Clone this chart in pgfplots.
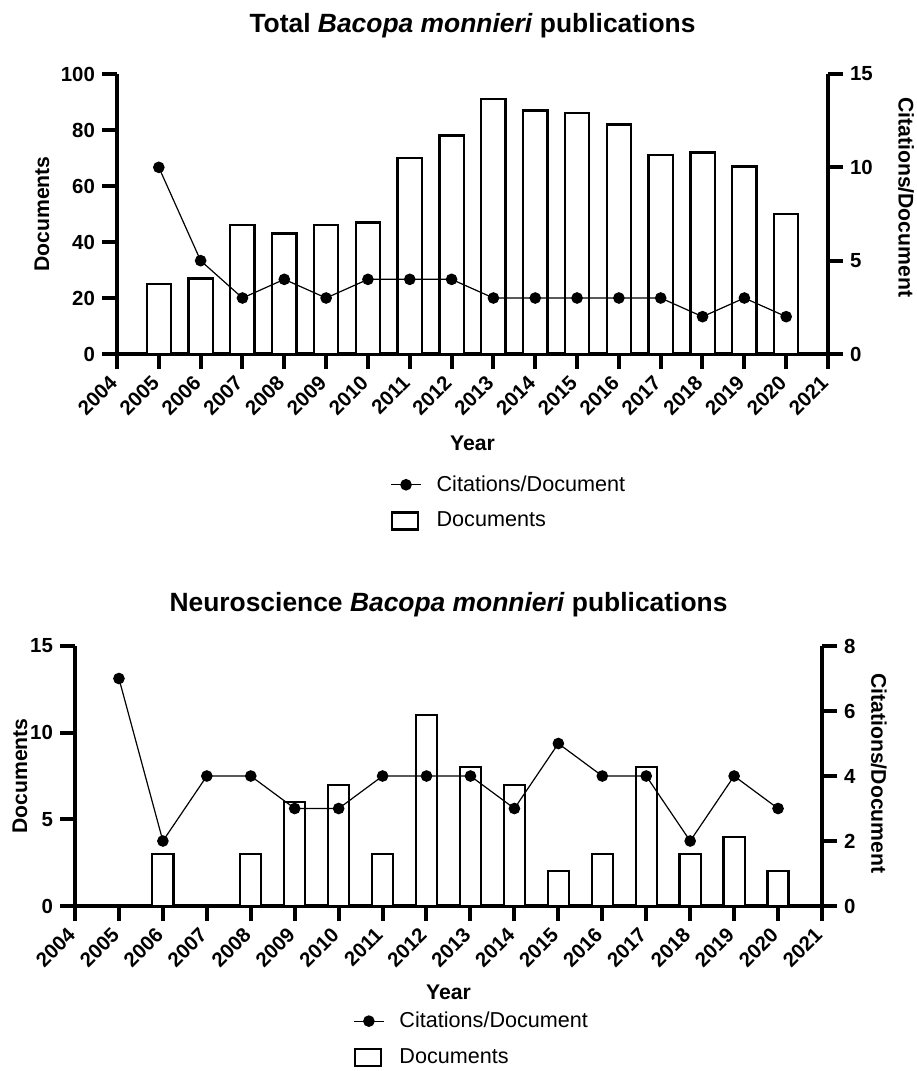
\documentclass[border=0pt]{standalone}
\usepackage{fontspec}
\setmainfont{Liberation Sans}
\usepackage{pgfplots}
\usepackage{pgfplotstable}
\pgfplotsset{compat=1.18}

\pgfplotstableread{
year docs cit
2005 25 10
2006 27 5
2007 46 3
2008 43 4
2009 46 3
2010 47 4
2011 70 4
2012 78 4
2013 91 3
2014 87 3
2015 86 3
2016 82 3
2017 71 3
2018 72 2
2019 67 3
2020 50 2
}\totaltab

\pgfplotstableread{
year docs cit
2005 0 7
2006 3 2
2007 0 4
2008 3 4
2009 6 3
2010 7 3
2011 3 4
2012 11 4
2013 8 4
2014 7 3
2015 2 5
2016 3 4
2017 8 4
2018 3 2
2019 4 4
2020 2 3
}\neurotab

\newcommand{\lblfont}{\bfseries\fontsize{10.6}{12}\selectfont}
\newcommand{\titfont}{\bfseries\fontsize{13.2}{15}\selectfont}
\newcommand{\tickfont}{\bfseries\fontsize{10.2}{12}\selectfont}

\pgfplotsset{
  base/.style={
    scale only axis,
    xmin=2004, xmax=2021,
    xtick={2004,...,2021},
    /pgf/number format/assume math mode=true,
    /pgf/number format/1000 sep={},
    xticklabel style={xshift=-4.3pt, yshift=-2.2pt, rotate=45, anchor=north east, inner sep=0pt, font=\tickfont},
    yticklabel style={font=\tickfont},
    clip=false,
  },
  finish/.style={
    axis line style={line width=2pt,-},
    tick style={line width=2pt, black},
    major tick length=7.5pt,
    tick align=outside,
  },
  leftax/.style={base, axis x line=bottom, axis y line=left, finish,
    xtick style={line width=2pt, black}},
  rightax/.style={base, axis x line=none, axis y line=right, finish},
  docbar/.style={ybar, bar shift=0pt, draw=black, fill=white, line width=1.15pt},
  citline/.style={black, line width=0.6pt, mark=*, mark size=2.6pt,
    legend image code/.code={\draw[black, line width=0.6pt] (0pt,0pt) -- (15pt,0pt);
      \fill[black] (7.5pt,0pt) circle (2.6pt);}},
  barlegend/.style={legend image code/.code={\draw[black, line width=1.15pt, fill=white] (0.6pt,-4.2pt) rectangle (13.5pt,4.2pt);}},
  mylegend/.style={legend style={draw=none, fill=none, anchor=north west,
    font=\fontsize{10.8}{13}\selectfont, row sep=5pt, column sep=5.5pt, inner sep=0pt},
    legend cell align=left},
}

\begin{document}
\begin{tikzpicture}
\path[use as bounding box] (0pt,0pt) rectangle (458pt,-535.5pt);

% ---------------- Top chart ----------------
\begin{axis}[leftax,
  at={(58.5pt,-177pt)}, anchor=south west,
  width=355.5pt, height=140pt,
  ymin=0, ymax=100, ytick={0,20,...,100},
  bar width=0.58,
  title={Total \textit{Bacopa monnieri} publications},
  every axis title/.style={at={(0.5,1.15)}, anchor=base, font=\titfont},
  xlabel={Year},
  every axis x label/.style={at={(0.5,-0.343)}, anchor=base, font=\lblfont},
  ylabel={Documents},
  every axis y label/.style={at={(-0.1055,0.5)}, rotate=90, anchor=center, font=\lblfont},
]
\addplot[docbar] table[x=year, y=docs] {\totaltab};
\end{axis}
\begin{axis}[rightax, mylegend,
  at={(58.5pt,-177pt)}, anchor=south west,
  width=355.5pt, height=140pt,
  ymin=0, ymax=15, ytick={0,5,10,15},
  ylabel={Citations/Document},
  every axis y label/.style={at={(1.1097,0.56)}, rotate=-90, anchor=center, font=\lblfont},
  legend style={at={(0.384,-0.418)}},
]
\addplot[citline] table[x=year, y=cit] {\totaltab};
\addlegendentry{Citations/Document}
\addlegendimage{barlegend}
\addlegendentry{Documents}
\end{axis}

% ---------------- Bottom chart ----------------
\begin{axis}[leftax,
  at={(37.5pt,-453pt)}, anchor=south west,
  width=373.5pt, height=130pt,
  ymin=0, ymax=15, ytick={0,5,10,15},
  bar width=0.48,
  title={Neuroscience \textit{Bacopa monnieri} publications},
  every axis title/.style={at={(0.5,1.131)}, anchor=base, font=\titfont},
  xlabel={Year},
  every axis x label/.style={at={(0.5,-0.358)}, anchor=base, font=\lblfont},
  ylabel={Documents},
  every axis y label/.style={at={(-0.0736,0.5)}, rotate=90, anchor=center, font=\lblfont},
]
\addplot[docbar, restrict y to domain=0.5:100] table[x=year, y=docs] {\neurotab};
\end{axis}
\begin{axis}[rightax, mylegend,
  at={(37.5pt,-453pt)}, anchor=south west,
  width=373.5pt, height=130pt,
  ymin=0, ymax=8, ytick={0,2,...,8},
  ylabel={Citations/Document},
  every axis y label/.style={at={(1.076,0.51)}, rotate=-90, anchor=center, font=\lblfont},
  legend style={at={(0.372,-0.39)}},
]
\addplot[citline] table[x=year, y=cit] {\neurotab};
\addlegendentry{Citations/Document}
\addlegendimage{barlegend}
\addlegendentry{Documents}
\end{axis}
\end{tikzpicture}
\end{document}
